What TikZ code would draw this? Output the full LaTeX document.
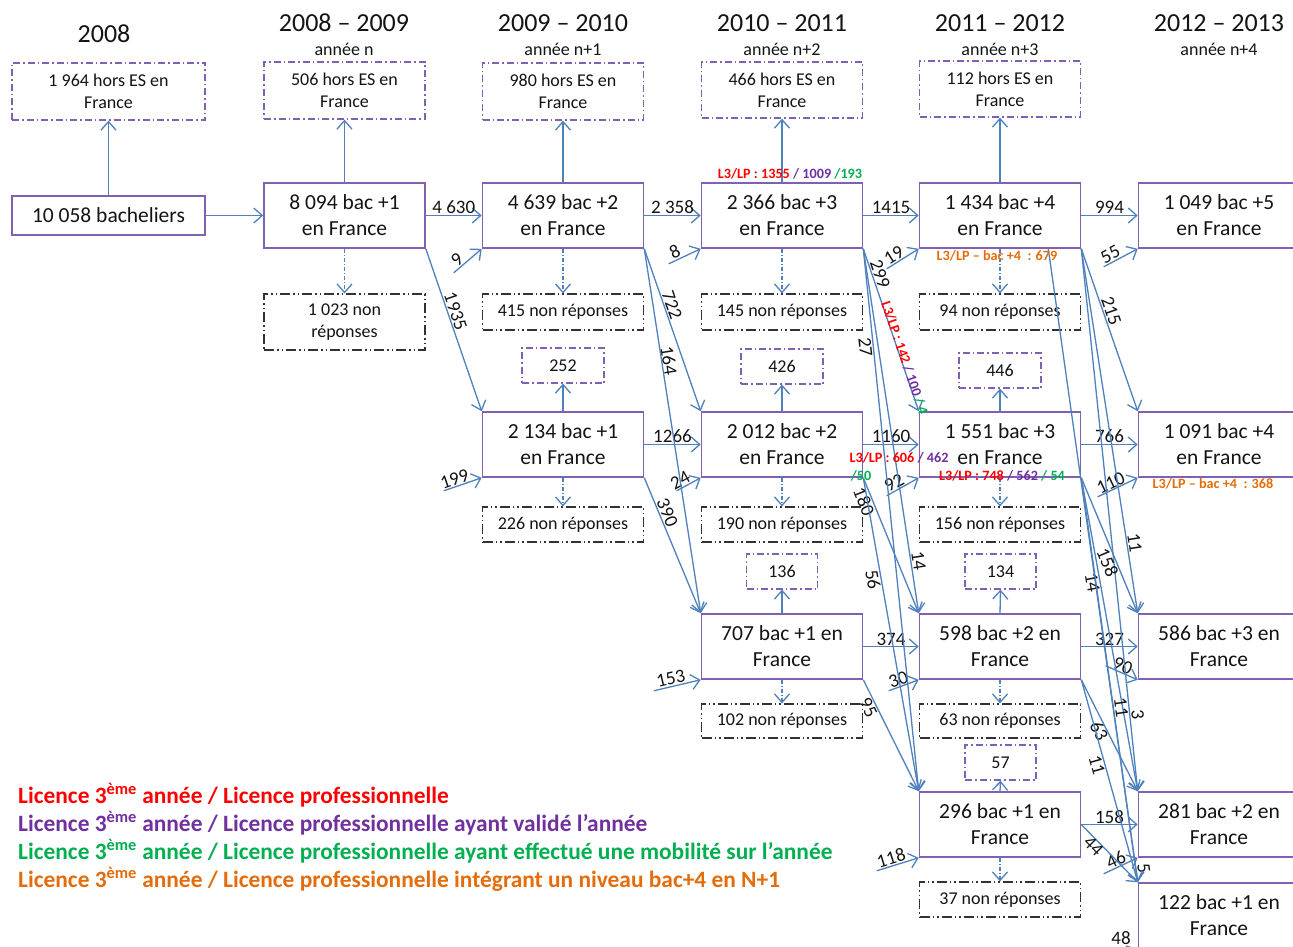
\documentclass[tikz,border=0pt]{standalone}
\usepackage{fontspec}
\setmainfont{Carlito}
\usetikzlibrary{arrows.meta,calc}
\definecolor{boxpurple}{RGB}{128,96,178}
\definecolor{arrblue}{RGB}{79,129,189}
\definecolor{cred}{RGB}{255,0,0}
\definecolor{cpurple}{RGB}{112,48,160}
\definecolor{cgreen}{RGB}{0,176,80}
\definecolor{corange}{RGB}{228,108,10}
\definecolor{nrgray}{RGB}{50,50,50}
\definecolor{txt}{RGB}{20,20,20}
\begin{document}
\begin{tikzpicture}[x=1pt,y=-1pt,
  mainbox/.style={draw=boxpurple, line width=1.6pt, minimum width=161pt, minimum height=65pt, align=center, inner sep=0pt, text=txt, font=\fontsize{21.5}{26}\selectfont},
  horsbox/.style={draw=boxpurple, line width=1.3pt, dash pattern=on 7pt off 3pt on 1.5pt off 3pt, minimum width=161pt, minimum height=57pt, align=center, inner sep=0pt, text=txt, font=\fontsize{18}{22}\selectfont},
  nrbox/.style={draw=nrgray, line width=1.2pt, dash pattern=on 10pt off 3pt on 1.5pt off 3pt on 1.5pt off 3pt, minimum width=161pt, minimum height=36pt, align=center, inner sep=0pt, text=txt, font=\fontsize{18}{22}\selectfont},
  smallbox/.style={draw=boxpurple, line width=1.2pt, dash pattern=on 7pt off 3pt on 1.5pt off 3pt, minimum width=82pt, minimum height=35pt, inner sep=0pt, text=txt, font=\fontsize{18}{22}\selectfont},
  arr/.style={draw=arrblue, line width=1.3pt, -{Straight Barb[length=8.5pt,width=15pt,line width=1.3pt]}},
  darr/.style={arr, dash pattern=on 4pt off 2pt on 1pt off 2pt},
  lbl/.style={font=\fontsize{19}{21}\selectfont, inner sep=1pt, text=txt},
  clbl/.style={font=\bfseries\fontsize{14.2}{16}\selectfont, inner sep=0pt},
  hdr/.style={font=\fontsize{26}{30}\selectfont, text=txt, inner sep=0pt},
  sub/.style={font=\fontsize{18}{22}\selectfont, text=txt, inner sep=0pt},
  leg/.style={font=\bfseries\fontsize{23.4}{26}\selectfont, anchor=west, inner sep=0pt}
]
\clip (0,0) rectangle (1293,947);
\fill[white] (0,0) rectangle (1293,947);

% headers
\node[hdr] (h0) at (104,34) {2008};
\node[hdr] (h1) at (344,23) {2008 – 2009};
\node[sub] (h1s) at (344,49) {année n};
\node[hdr] (h2) at (563,23) {2009 – 2010};
\node[sub] (h2s) at (563,49) {année n+1};
\node[hdr] (h3) at (782,23) {2010 – 2011};
\node[sub] (h3s) at (782,49) {année n+2};
\node[hdr] (h4) at (1000,23) {2011 – 2012};
\node[sub] (h4s) at (1000,49) {année n+3};
\node[hdr] (h5) at (1219,23) {2012 – 2013};
\node[sub] (h5s) at (1219,49) {année n+4};

% hors ES boxes
\node[horsbox, minimum width=193pt] (hs0) at (108.5,91.5) {1 964 hors ES en\\France};
\node[horsbox] (hs1) at (344.5,90.5) {506 hors ES en\\France};
\node[horsbox] (hs2) at (563,91.5) {980 hors ES en\\France};
\node[horsbox, minimum height=56pt] (hs3) at (782,90) {466 hors ES en\\France};
\node[horsbox, minimum height=56pt] (hs4) at (1000,89) {112 hors ES en\\France};

% row A
\node[mainbox, minimum width=193pt, minimum height=39pt] (bach) at (108.5,215.5) {10 058 bacheliers};
\node[mainbox] (a1) at (344.5,215.5) {8 094 bac +1\\en France};
\node[mainbox] (a2) at (563,215.5) {4 639 bac +2\\en France};
\node[mainbox] (a3) at (782,215.5) {2 366 bac +3\\en France};
\node[mainbox] (a4) at (1000,215.5) {1 434 bac +4\\en France};
\node[mainbox] (a5) at (1219,215.5) {1 049 bac +5\\en France};

% non reponses row A
\node[nrbox, minimum height=56pt] (nr1) at (344.5,322) {1 023 non\\réponses};
\node[nrbox] (nr2) at (563,312) {415 non réponses};
\node[nrbox] (nr3) at (782,312) {145 non réponses};
\node[nrbox] (nr4) at (1000,312) {94 non réponses};

% small boxes above row B
\node[smallbox] (s2) at (563,365.5) {252};
\node[smallbox] (s3) at (782,366.5) {426};
\node[smallbox] (s4) at (1000,370.5) {446};

% row B
\node[mainbox] (b2) at (563,444.5) {2 134 bac +1\\en France};
\node[mainbox] (b3) at (782,444.5) {2 012 bac +2\\en France};
\node[mainbox] (b4) at (1000,444.5) {1 551 bac +3\\en France};
\node[mainbox] (b5) at (1219,444.5) {1 091 bac +4\\en France};

\node[nrbox, minimum height=35pt] (nb2) at (563,524.5) {226 non réponses};
\node[nrbox, minimum height=35pt] (nb3) at (782,524.5) {190 non réponses};
\node[nrbox, minimum height=35pt] (nb4) at (1000,524.5) {156 non réponses};

\node[smallbox, minimum width=71pt] (sc3) at (782,571.5) {136};
\node[smallbox, minimum width=71pt] (sc4) at (1000.5,571.5) {134};

% row C
\node[mainbox] (c3) at (782,646.5) {707 bac +1 en\\France};
\node[mainbox] (c4) at (1000,646.5) {598 bac +2 en\\France};
\node[mainbox] (c5) at (1219,646.5) {586 bac +3 en\\France};

\node[nrbox, minimum height=34pt] (nc3) at (782,721) {102 non réponses};
\node[nrbox, minimum height=34pt] (nc4) at (1000,721) {63 non réponses};

\node[smallbox, minimum width=71pt] (sd4) at (1000.5,762.5) {57};

% row D
\node[mainbox] (d4) at (1000,824.5) {296 bac +1 en\\France};
\node[mainbox] (d5) at (1219,824.5) {281 bac +2 en\\France};
\node[nrbox, minimum height=35pt] (nd4) at (1000,899.5) {37 non réponses};

% row E
\node[mainbox] (e5) at (1219,915.5) {122 bac +1 en\\France};

% vertical arrows
\draw[arr] (bach.north) -- (hs0.south);
\draw[arr] (a1.north) -- (hs1.south);
\draw[arr] (a2.north) -- (hs2.south);
\draw[arr] (a3.north) -- (hs3.south);
\draw[arr] (a4.north) -- (hs4.south);
\draw[darr] (a1.south) -- (nr1.north);
\draw[darr] (a2.south) -- (nr2.north);
\draw[darr] (a3.south) -- (nr3.north);
\draw[darr] (a4.south) -- (nr4.north);
\draw[arr] (b2.north) -- (s2.south);
\draw[arr] (b3.north) -- (s3.south);
\draw[arr] (b4.north) -- (s4.south);
\draw[darr] (b2.south) -- (nb2.north);
\draw[darr] (b3.south) -- (nb3.north);
\draw[darr] (b4.south) -- (nb4.north);
\draw[arr] (c3.north) -- (sc3.south);
\draw[arr] (c4.north) -- (sc4.south);
\draw[darr] (c3.south) -- (nc3.north);
\draw[darr] (c4.south) -- (nc4.north);
\draw[arr] (d4.north) -- (sd4.south);
\draw[darr] (d4.south) -- (nd4.north);

% horizontal arrows
\draw[arr] (bach.east) -- (a1.west);
\draw[arr] (a1.east) -- (a2.west) node[lbl,midway,above] (l4630) {4 630};
\draw[arr] (a2.east) -- (a3.west) node[lbl,midway,above] (l2358) {2 358};
\draw[arr] (a3.east) -- (a4.west) node[lbl,midway,above] (l1415) {1415};
\draw[arr] (a4.east) -- (a5.west) node[lbl,midway,above] (l994) {994};
\draw[arr] (b2.east) -- (b3.west) node[lbl,midway,above] (l1266) {1266};
\draw[arr] (b3.east) -- (b4.west) node[lbl,midway,above] (l1160) {1160};
\draw[arr] (b4.east) -- (b5.west) node[lbl,midway,above] (l766) {766};
\draw[arr] (c3.east) -- (c4.west) node[lbl,midway,above,inner sep=0pt] (l374) {374};
\draw[arr] (c4.east) -- (c5.west) node[lbl,midway,above,inner sep=0pt] (l327) {327};
\draw[arr] (d4.east) -- (d5.west) node[lbl,midway,above,inner sep=0pt] (l158d) {158};

% short inflows
\coordinate (i9) at ([shift={(-28,24)}]a2.south west);
\draw[arr] (i9) -- (a2.south west) node[lbl,pos=.3,above,sloped] (l9) {9};
\coordinate (i8) at ([shift={(-32,15)}]a3.south west);
\draw[arr] (i8) -- (a3.south west) node[lbl,pos=.3,above,sloped] (l8) {8};
\coordinate (i19) at ([shift={(-32,20)}]a4.south west);
\draw[arr] (i19) -- (a4.south west) node[lbl,pos=.35,above,sloped] (l19) {19};
\coordinate (i55) at ([shift={(-34,18)}]a5.south west);
\draw[arr] (i55) -- (a5.south west) node[lbl,pos=.3,above,sloped] (l55) {55};
\coordinate (i199) at ([shift={(-38,13)}]b2.south west);
\draw[arr] (i199) -- (b2.south west) node[lbl,pos=.35,above,sloped] (l199) {199};
\coordinate (i24) at ([shift={(-24,13)}]b3.south west);
\draw[arr] (i24) -- (b3.south west) node[lbl,pos=.3,above,sloped] (l24) {24};
\coordinate (i92) at ([shift={(-32,18)}]b4.south west);
\draw[arr] (i92) -- (b4.south west) node[lbl,pos=.35,above,sloped] (l92) {92};
\coordinate (i110) at ([shift={(-40,19)}]b5.south west);
\draw[arr] (i110) -- (b5.south west) node[lbl,pos=.4,above,sloped,inner sep=0pt] (l110) {110};
\coordinate (i153) at ([shift={(-47,11)}]c3.south west);
\draw[arr] (i153) -- (c3.south west) node[lbl,pos=.4,above,sloped] (l153) {153};
\coordinate (i30) at ([shift={(-30,11)}]c4.south west);
\draw[arr] (i30) -- (c4.south west) node[lbl,pos=.4,above,sloped,inner sep=0pt] (l30) {30};
\coordinate (i90) at ([shift={(-32,-14)}]c5.south west);
\draw[arr] (i90) -- (c5.south west) node[lbl,pos=.45,above,sloped,inner sep=0pt] (l90) {90};
\coordinate (i118) at ([shift={(-42,13)}]d4.south west);
\draw[arr] (i118) -- (d4.south west) node[lbl,pos=.4,above,sloped] (l118) {118};
\coordinate (i46) at ([shift={(-34,16)}]d5.south west);
\draw[arr] (i46) -- (d5.south west) node[lbl,pos=.45,above,sloped,inner sep=0pt] (l46) {46};
\coordinate (i48) at ([shift={(-34,16)}]e5.south west);
\draw[arr] (i48) -- (e5.south west);
\node[lbl] (l48) at (1121,938) {48};

% diagonal flows col1 -> col2
\draw[arr] (a1.south east) -- (b2.north west) node[lbl,pos=.4,above,sloped] (l1935) {1935};
% col2 -> col3
\draw[arr] (a2.south east) -- (b3.north west) node[lbl,pos=.36,above,sloped] (l722) {722};
\draw[arr] (a2.south east) -- (c3.north west) node[lbl,pos=.31,above,sloped,inner sep=0pt] (l164) {164};
\draw[arr] (b2.south east) -- (c3.north west) node[lbl,pos=.28,above,sloped] (l390) {390};
% col3 -> col4
\draw[arr] (a3.south east) -- (b4.north west)
  node[lbl,pos=.17,above,sloped] (l299) {299}
  node[clbl,pos=.68,sloped,above=-2pt] (l142) {\textcolor{cred}{L3/LP : 142} \textcolor{cpurple}{/ 100} \textcolor{cgreen}{/ 4}};
\draw[arr] (a3.south east) -- (c4.north west) node[lbl,pos=.86,above,sloped] (l14a) {14};
\draw[arr] (a3.south east) -- (d4.north west) node[lbl,pos=.18,below,sloped] (l27) {27};
\draw[arr] (b3.south east) -- (c4.north west) node[lbl,pos=.15,below,sloped] (l180) {180};
\draw[arr] (b3.south east) -- (d4.north west) node[lbl,pos=.32,below,sloped] (l56) {56};
\draw[arr] (c3.south east) -- (d4.north west) node[lbl,pos=.22,below,sloped] (l95) {95};
% col4 -> col5
\draw[arr] (a4.south east) -- (b5.north west) node[lbl,pos=.4,above,sloped] (l215) {215};
\draw[arr] (a4.south east) -- (c5.north west) node[lbl,pos=.81,above,sloped] (l11a) {11};
\draw[arr] (a4.south east) -- (d5.north west) node[lbl,pos=.86,above,sloped] (l3) {3};
\draw[arr] ([xshift=-33pt]a4.south east) -- (e5.north west) node[lbl,pos=.98,above,sloped] (l5) {5};
\draw[arr] (b4.south east) -- (c5.north west) node[lbl,pos=.6,below,sloped] (l158b) {158};
\draw[arr] (b4.south east) -- (d5.north west) node[lbl,pos=.33,below,sloped] (l14b) {14};
\draw[arr] (b4.south east) -- (e5.north west) node[lbl,pos=.57,above,sloped] (l11b) {11};
\draw[arr] (c4.south east) -- (d5.north west) node[lbl,pos=.43,below,sloped,inner sep=0pt] (l63) {63};
\draw[arr] (c4.south east) -- (e5.north west) node[lbl,pos=.41,below,sloped] (l11c) {11};
\draw[arr] (d4.east) -- (e5.north west) node[lbl,pos=.3,below,sloped,inner sep=0pt] (l44) {44};

% coloured labels
\node[clbl] (k1) at (790,174) {\textcolor{cred}{L3/LP : 1355} \textcolor{cpurple}{/ 1009} \textcolor{cgreen}{/193}};
\node[clbl, text=corange] (k2) at (997,256) {L3/LP – bac +4~~: 679};
\node[clbl] (k3) at (899,458) {\textcolor{cred}{L3/LP : 606} \textcolor{cpurple}{/ 462}};
\node[clbl, text=cgreen] (k4) at (861,476) {/50};
\node[clbl] (k5) at (1002,476) {\textcolor{cred}{L3/LP : 748} \textcolor{cpurple}{/ 562} \textcolor{cgreen}{/ 54}};
\node[clbl, text=corange] (k6) at (1213,484) {L3/LP – bac +4~~: 368};

% legend
\node[leg, text=cred] (g1) at (18,795) {Licence 3\textsuperscript{ème} année / Licence professionnelle};
\node[leg, text=cpurple] (g2) at (18,823) {Licence 3\textsuperscript{ème} année / Licence professionnelle ayant validé l’année};
\node[leg, text=cgreen] (g3) at (18,851) {Licence 3\textsuperscript{ème} année / Licence professionnelle ayant effectué une mobilité sur l’année};
\node[leg, text=corange] (g4) at (18,879) {Licence 3\textsuperscript{ème} année / Licence professionnelle intégrant un niveau bac+4 en N+1};
\end{tikzpicture}
\end{document}
